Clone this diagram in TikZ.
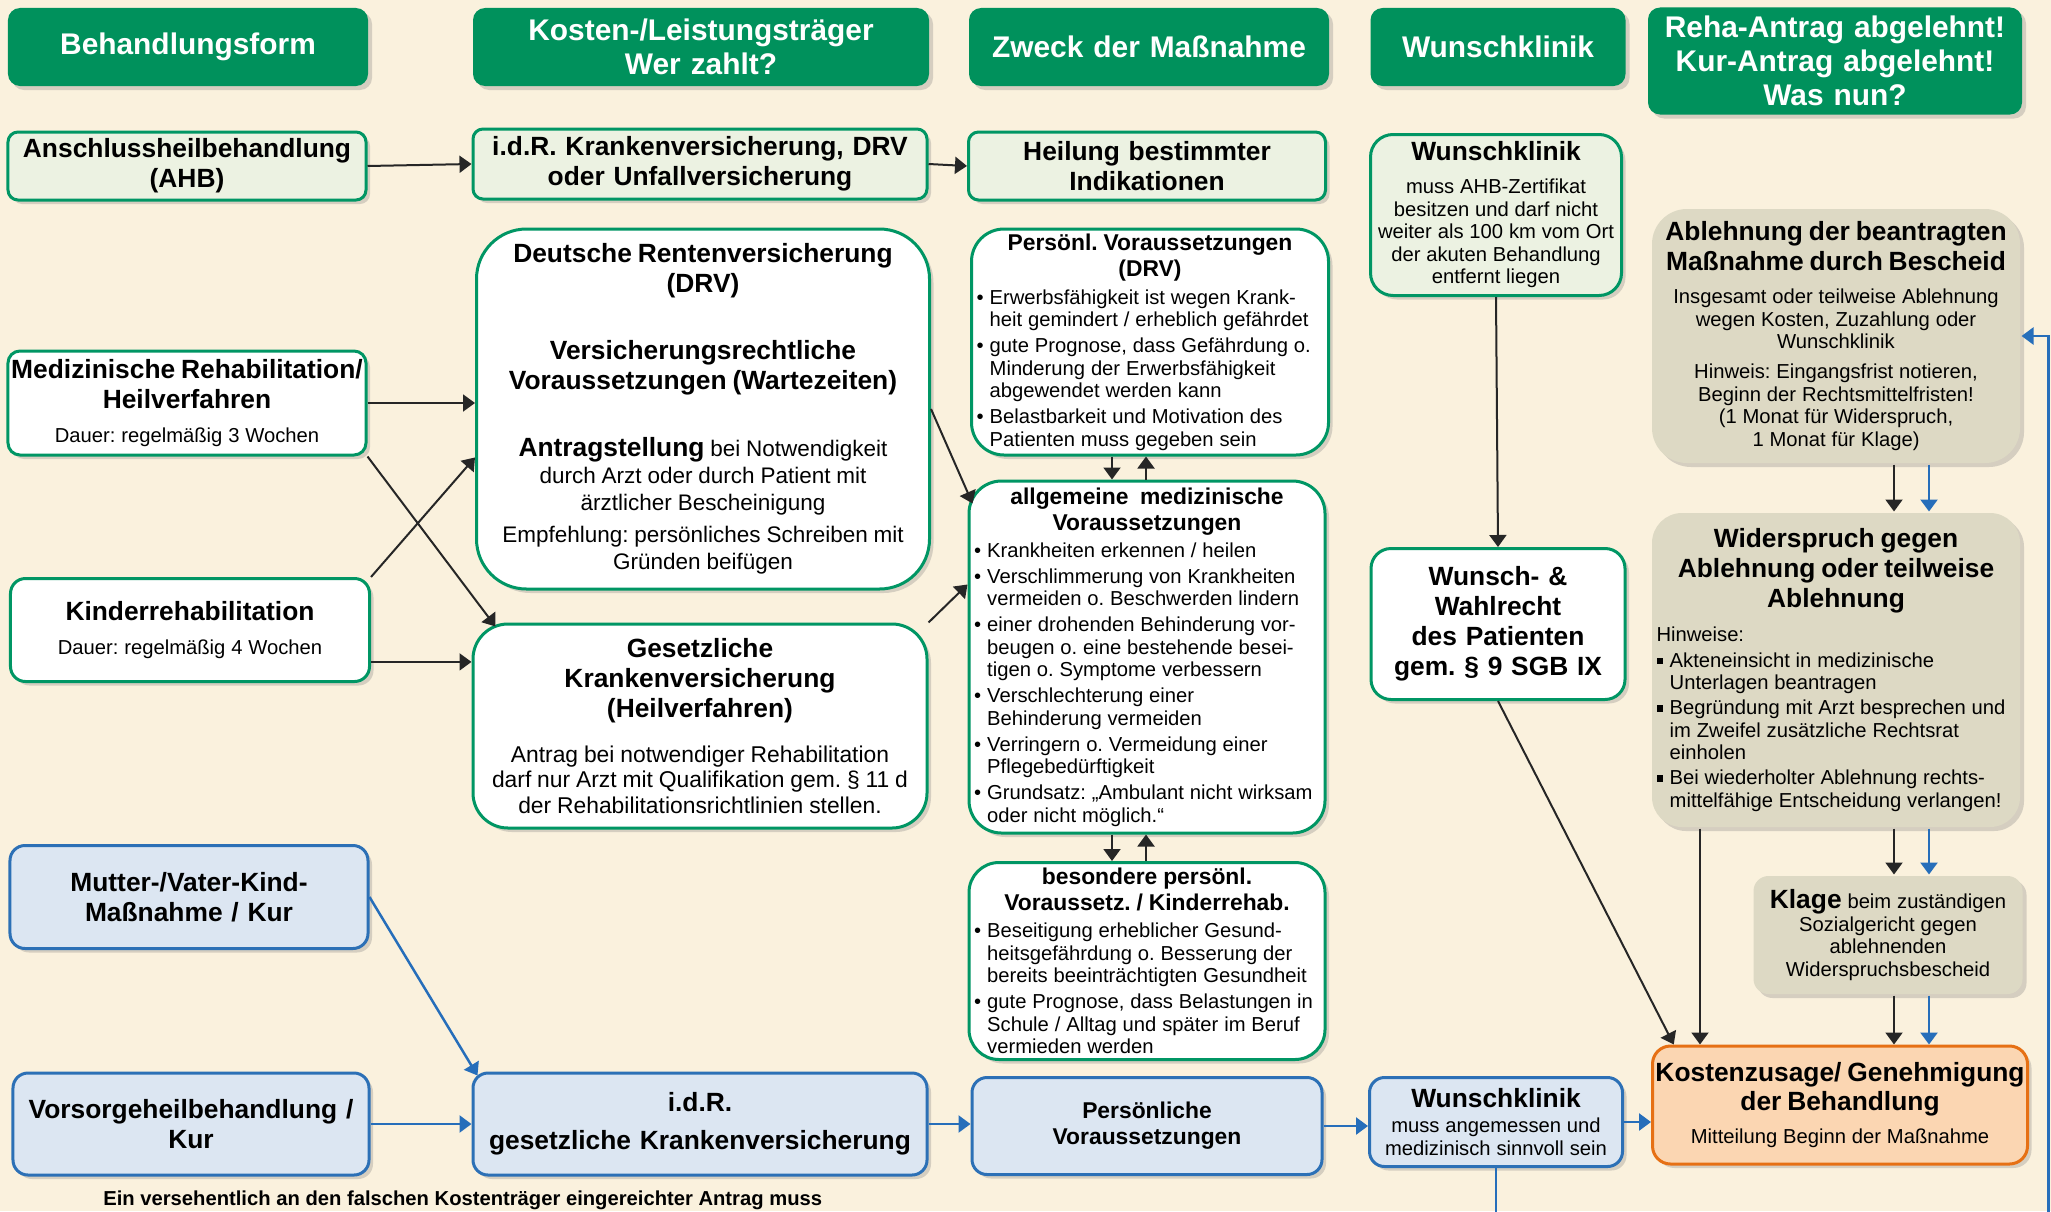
\documentclass[tikz,border=0pt]{standalone}
\usepackage{fontspec}
\setmainfont{Liberation Sans}
\usetikzlibrary{arrows.meta,shadows}

\definecolor{bgbeige}{RGB}{250,241,221}
\definecolor{hdgreen}{RGB}{0,145,92}
\definecolor{bdgreen}{RGB}{0,150,100}
\definecolor{lgfill}{RGB}{236,242,226}
\definecolor{ltblue}{RGB}{220,230,242}
\definecolor{bdblue}{RGB}{44,112,182}
\definecolor{greige}{RGB}{221,217,196}
\definecolor{orfill}{RGB}{251,214,178}
\definecolor{orline}{RGB}{230,112,20}
\definecolor{arblack}{RGB}{38,38,38}
\definecolor{arblue}{RGB}{38,110,186}

\newcommand{\fHead}{\fontsize{17}{19.5}\selectfont\bfseries}
\newcommand{\fTitle}{\fontsize{15}{17}\selectfont\bfseries}
\newcommand{\fSub}{\fontsize{13}{14.8}\selectfont\bfseries}
\newcommand{\fText}{\fontsize{11.5}{12.8}\selectfont}
\newcommand{\bul}{\makebox[7.5pt][l]{\textbullet}}
\newcommand{\sqbul}{\makebox[7.5pt][l]{\rule[0.3ex]{3.6pt}{3.6pt}}}
\newcommand{\indt}{\hspace*{7.5pt}}
\newcommand{\wline}[1]{\makebox[\hsize]{#1}}
\setlength{\parindent}{0pt}
\frenchspacing

\tikzset{
  bx/.style={rectangle, align=center, inner xsep=0.6mm, inner ysep=0.6mm, line width=0.6mm,
    drop shadow={opacity=0.3, shadow xshift=0.8mm, shadow yshift=-0.8mm}},
  hdbox/.style={bx, fill=hdgreen, text=white, rounded corners=2.4mm, font=\fHead},
  lgbox/.style={bx, draw=bdgreen, fill=lgfill},
  wbox/.style={bx, draw=bdgreen, fill=white},
  blbox/.style={bx, draw=bdblue, fill=ltblue},
  gbox/.style={bx, fill=greige},
  obox/.style={bx, draw=orline, fill=orfill},
  sz/.style n args={3}{minimum width=#1mm, minimum height=#2mm, text width=#3mm},
  blk/.style={draw=arblack, line width=0.4mm, -{Triangle[width=3.4mm,length=2.4mm]}},
  blu/.style={draw=arblue, line width=0.5mm, -{Triangle[width=3.4mm,length=2.4mm]}}
}

\begin{document}
\begin{tikzpicture}[x=0.2mm, y=-0.2mm]
  \useasboundingbox (0,0) rectangle (2051,1211);
  \fill[bgbeige] (0,0) rectangle (2051,1211);
  \clip (0,0) rectangle (2051,1211);

  \node[hdbox, sz={72}{15.6}{70.8}] (h1) at (188,47) {Behandlungsform};
  \node[hdbox, sz={91.2}{15.6}{90}] (h2) at (701,47) {Kosten-/Leistungsträger\\Wer zahlt?};
  \node[hdbox, sz={72}{15.6}{70.8}] (h3) at (1149,47) {Zweck der Maßnahme};
  \node[hdbox, sz={51}{15.6}{49.8}] (h4) at (1498,47) {Wunschklinik};
  \node[hdbox, sz={74.8}{21.4}{73.6}] (h5) at (1835,61) {Reha-Antrag abgelehnt!\\Kur-Antrag abgelehnt!\\Was nun?};

  \node[lgbox, rounded corners=2mm, sz={71.6}{13.6}{70.4}, font=\fTitle] (ahb) at (187,166) {Anschlussheilbehandlung\\(AHB)};
  \node[lgbox, rounded corners=2mm, sz={90.8}{14}{89.6}, font=\fTitle] (kvdrv) at (700,164) {i.d.R. Krankenversicherung, DRV\\oder Unfallversicherung};
  \node[lgbox, rounded corners=2mm, sz={71.4}{13.6}{70.2}, font=\fTitle] (heil) at (1147,166) {Heilung bestimmter\\Indikationen};
  \node[lgbox, rounded corners=4.5mm, sz={50.2}{32.2}{49}] (wk1) at (1496,215) {{\fTitle Wunschklinik\par}\vspace{6pt}{\fText muss AHB-Zertifikat\\besitzen und darf nicht\\weiter als 100 km vom Ort\\der akuten Behandlung\\entfernt liegen\par}};

  \node[wbox, rounded corners=2.4mm, inner xsep=0.3mm, sz={71.6}{20.8}{71}] (medreha) at (187,403) {{\fTitle \wline{Medizinische Rehabilitation/}\\Heilverfahren\par}\vspace{6.5pt}{\fText Dauer: regelmäßig 3 Wochen\par}};
  \node[wbox, rounded corners=3mm, sz={71.8}{20.6}{70.6}] (kireha) at (190,630) {{\fTitle Kinderrehabilitation\par}\vspace{6.5pt}{\fText Dauer: regelmäßig 4 Wochen\par}};
  \node[blbox, rounded corners=3mm, sz={71.6}{20.6}{70.4}, font=\fTitle] (mutter) at (189,897) {Mutter-/Vater-Kind-\\Maßnahme / Kur};
  \node[blbox, rounded corners=3mm, sz={71.2}{20.4}{70}, font=\fTitle] (vorsorge) at (191,1124) {Vorsorgeheilbehandlung /\\Kur};

  \node[wbox, rounded corners=10mm, sz={90.6}{72}{89.4}] (drv) at (703,409) {{\fTitle Deutsche Rentenversicherung\\(DRV)\par}\vspace{21pt}{\fTitle Versicherungsrechtliche\\Voraussetzungen (Wartezeiten)\par}\vspace{22.5pt}{\fontsize{12.8}{15.4}\selectfont{\fTitle Antragstellung} bei Notwendigkeit\\durch Arzt oder durch Patient mit\\ärztlicher Bescheinigung\\[3pt]Empfehlung: persönliches Schreiben mit\\Gründen beifügen\par}};
  \node[wbox, rounded corners=7mm, sz={90.8}{40.8}{89.6}] (gkv) at (700,726) {{\fTitle Gesetzliche\\Krankenversicherung\\(Heilverfahren)\par}\vspace{11pt}{\fontsize{13}{14.5}\selectfont Antrag bei notwendiger Rehabilitation\\darf nur Arzt mit Qualifikation gem. § 11 d\\der Rehabilitationsrichtlinien stellen.\par}};
  \node[blbox, rounded corners=3mm, sz={90.8}{20.4}{89.6}, font=\fTitle] (idr) at (700,1124) {i.d.R.\\[4.5pt]gesetzliche Krankenversicherung};

  \node[wbox, rounded corners=6.5mm, align=left, inner xsep=1mm, sz={71.4}{45.2}{69.4}] (pdrv) at (1150,342) {{\centering\fSub Persönl. Voraussetzungen\\(DRV)\par}\vspace{3pt}{\fText\bul Erwerbsfähigkeit ist wegen Krank-\\\indt heit gemindert / erheblich gefährdet\\[2pt]\bul gute Prognose, dass Gefährdung o.\\\indt Minderung der Erwerbsfähigkeit\\\indt abgewendet werden kann\\[2pt]\bul Belastbarkeit und Motivation des\\\indt Patienten muss gegeben sein\par}};
  \node[wbox, rounded corners=6.5mm, align=left, inner xsep=1mm, sz={71.2}{70.4}{69.2}] (allg) at (1147,657) {{\centering\fSub allgemeine\ \ medizinische\\Voraussetzungen\par}\vspace{2.6pt}{\fText\bul Krankheiten erkennen / heilen\\[2pt]\bul Verschlimmerung von Krankheiten\\\indt vermeiden o. Beschwerden lindern\\[2pt]\bul einer drohenden Behinderung vor-\\\indt beugen o. eine bestehende besei-\\\indt tigen o. Symptome verbessern\\[2pt]\bul Verschlechterung einer\\\indt Behinderung vermeiden\\[2pt]\bul Verringern o. Vermeidung einer\\\indt Pflegebedürftigkeit\\[2pt]\bul Grundsatz: „Ambulant nicht wirksam\\\indt oder nicht möglich.“\par}};
  \node[wbox, rounded corners=6mm, align=left, inner xsep=1mm, sz={71.2}{39.4}{69.2}] (bes) at (1147,961) {{\centering\fSub besondere persönl.\\Voraussetz. / Kinderrehab.\par}\vspace{2.5pt}{\fText\bul Beseitigung erheblicher Gesund-\\\indt heitsgefährdung o. Besserung der\\\indt bereits beeinträchtigten Gesundheit\\[2pt]\bul gute Prognose, dass Belastungen in\\\indt Schule / Alltag und später im Beruf\\\indt vermieden werden\par}};
  \node[blbox, rounded corners=3mm, sz={70}{19.4}{68.8}, font=\fSub] (pv) at (1147,1126) {Persönliche\\Voraussetzungen};

  \node[wbox, rounded corners=4mm, sz={50.8}{30.2}{49.6}, font=\fTitle] (wwr) at (1498,624) {Wunsch- \&\\Wahlrecht\\des Patienten\\gem. § 9 SGB IX};
  \node[blbox, rounded corners=3mm, sz={50.6}{17.8}{49.4}] (wk2) at (1496,1122) {{\fTitle Wunschklinik\par}\vspace{1.5pt}{\fText muss angemessen und\\medizinisch sinnvoll sein\par}};

  \node[gbox, rounded corners=7mm, sz={73.6}{50.8}{72.4}] (abl) at (1836,336) {{\fTitle \wline{Ablehnung der beantragten}\\\wline{Maßnahme durch Bescheid}\par}\vspace{6pt}{\fText Insgesamt oder teilweise Ablehnung\\wegen Kosten, Zuzahlung oder\\Wunschklinik\\[4.2pt]Hinweis: Eingangsfrist notieren,\\Beginn der Rechtsmittelfristen!\\(1 Monat für Widerspruch,\\1 Monat für Klage)\par}};
  \node[gbox, rounded corners=6mm, align=left, inner xsep=0.9mm, sz={73.6}{62.8}{71.8}] (wid) at (1836,670) {{\centering\fTitle Widerspruch gegen\\Ablehnung oder teilweise\\Ablehnung\par}\vspace{6.5pt}{\fText Hinweise:\\[2pt]\sqbul Akteneinsicht in medizinische\\\indt Unterlagen beantragen\\[1.5pt]\sqbul Begründung mit Arzt besprechen und\\\indt im Zweifel zusätzliche Rechtsrat\\\indt einholen\\[1.5pt]\sqbul Bei wiederholter Ablehnung rechts-\\\indt mittelfähige Entscheidung verlangen!\par}};
  \node[gbox, rounded corners=3mm, sz={53.8}{23.6}{52.6}] (klage) at (1888,935) {{\fText{\fTitle Klage} beim zuständigen\\Sozialgericht gegen\\ablehnenden\\Widerspruchsbescheid\par}};
  \node[obox, rounded corners=3.6mm, sz={75}{23.6}{73.8}] (kost) at (1840,1105) {{\fTitle \wline{Kostenzusage/ Genehmigung}\\der Behandlung\par}\vspace{6pt}{\fText Mitteilung Beginn der Maßnahme\par}\vspace{9pt}};

  \node[anchor=base west, inner sep=0pt, font=\fontsize{11.5}{13}\selectfont\bfseries] (hint) at (103,1205) {Ein versehentlich an den falschen Kostenträger eingereichter Antrag muss};

  \begin{scope}[blk]
    \draw (ahb.east) to (kvdrv.west);
    \draw (kvdrv.east) to (heil.west);
    \draw (medreha.east) to (medreha.east -| drv.west);
    \draw (medreha.south east) to ([shift={(24,4)}]gkv.north west);
    \draw (kireha.north east) to (drv.192);
    \draw (kireha.350) to (kireha.350 -| gkv.west);
    \draw (drv.east) to ([shift={(5,24)}]allg.north west);
    \draw (gkv.north east) to (allg.158);
    \draw ([xshift=-7.6mm]pdrv.south) to ([xshift=-7.6mm]pdrv.south |- allg.north);
    \draw ([xshift=-0.8mm]pdrv.south |- allg.north) to ([xshift=-0.8mm]pdrv.south);
    \draw ([xshift=-7mm]allg.south) to ([xshift=-7mm]allg.south |- bes.north);
    \draw ([xshift=-0.2mm]allg.south |- bes.north) to ([xshift=-0.2mm]allg.south);
    \draw (wk1.south) to (wwr.north);
    \draw (wwr.south) to (kost.160);
    \draw ([xshift=-27.2mm]wid.south) to ([xshift=-27.2mm]wid.south |- kost.north);
    \draw ([xshift=11.6mm]abl.south) to ([xshift=11.6mm]abl.south |- wid.north);
    \draw ([xshift=11.6mm]abl.south |- wid.south) to ([xshift=11.6mm]abl.south |- klage.north);
    \draw ([xshift=11.6mm]abl.south |- klage.south) to ([xshift=11.6mm]abl.south |- kost.north);
  \end{scope}

  \begin{scope}[blu]
    \draw (mutter.east) to ([shift={(6,4)}]idr.north west);
    \draw (vorsorge.east) to (idr.west);
    \draw (idr.east) to (idr.east -| pv.west);
    \draw (pv.east) to (pv.east -| wk2.west);
    \draw (wk2.east) to (wk2.east -| kost.west);
    \draw ([xshift=18.6mm]abl.south) to ([xshift=18.6mm]abl.south |- wid.north);
    \draw ([xshift=18.6mm]abl.south |- wid.south) to ([xshift=18.6mm]abl.south |- klage.north);
    \draw ([xshift=18.6mm]abl.south |- klage.south) to ([xshift=18.6mm]abl.south |- kost.north);
    \draw (wk2.south) -- ++(0,100) -| ([xshift=5.4mm]abl.east) -- (abl.east);
  \end{scope}
\end{tikzpicture}
\end{document}
